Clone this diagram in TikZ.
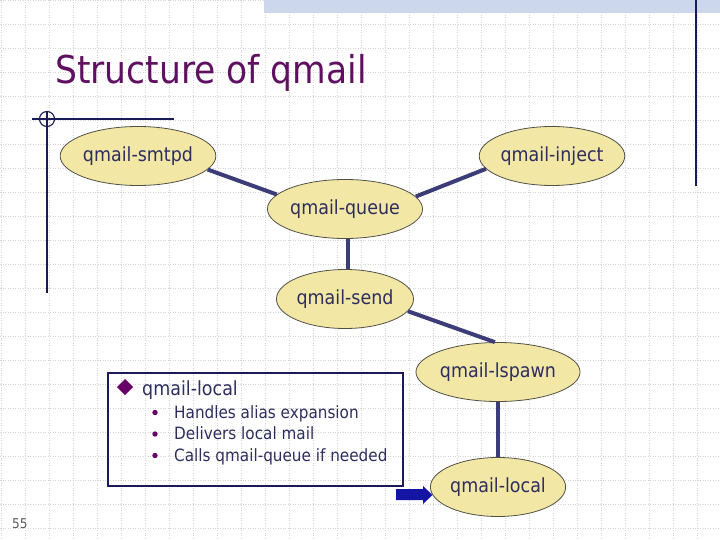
\documentclass[tikz,border=0pt]{standalone}
\usepackage{fontspec}
\setmainfont[FakeStretch=0.9]{DejaVu Sans}
\usetikzlibrary{shapes.geometric}
\definecolor{gridc}{RGB}{212,212,212}
\definecolor{bandc}{RGB}{204,214,236}
\definecolor{navy}{RGB}{26,26,90}
\definecolor{titlec}{RGB}{96,16,96}
\definecolor{txtc}{RGB}{45,45,95}
\definecolor{ellfill}{RGB}{243,231,166}
\definecolor{elldraw}{RGB}{80,80,70}
\definecolor{conc}{RGB}{60,60,120}
\definecolor{arrc}{RGB}{20,20,165}
\definecolor{bulc}{RGB}{102,0,102}
\tikzset{
  proc/.style={ellipse, draw=elldraw, line width=0.8bp, fill=ellfill,
    minimum width=132bp, minimum height=59bp, inner sep=0pt,
    text=txtc, font=\fontsize{19.5}{22}\selectfont},
  conn/.style={draw=conc, line width=4bp},
  gridline/.style={draw=gridc, line width=0.7bp, dash pattern=on 1bp off 1.5bp},
  deco/.style={draw=navy, line width=1.1bp},
  subtxt/.style={anchor=base west, inner sep=0pt, text=txtc, font=\fontsize{17}{20}\selectfont},
  subbul/.style={fill=bulc}
}
\begin{document}
\begin{tikzpicture}[x=1bp,y=-1bp]
\useasboundingbox (0,0) rectangle (720,540);
% background grid
\foreach \i in {0,...,29} { \draw[gridline] ({24*\i+1},0) -- ({24*\i+1},540); }
\foreach \j in {0,...,22} { \draw[gridline] (0,{24*\j}) -- (720,{24*\j}); }
% top band
\fill[bandc] (264,0) rectangle (720,13);
\draw[deco] (696,0) -- (696,186);
% left decoration
\draw[deco] (32,119) -- (174,119);
\draw[deco] (47,111) -- (47,293);
\draw[deco] (47,119) circle[radius=7.5];
% title
\node[anchor=base west, inner sep=0pt, text=titlec, font=\fontsize{38.5}{44}\selectfont] (title) at (55,84) {Structure of qmail};
% processes
\node[proc] (smtpd) at (138,156) {qmail-smtpd};
\node[proc] (inject) at (552,156) {qmail-inject};
\node[proc] (queue) at (345,209) {qmail-queue};
\node[proc] (send) at (345,299) {qmail-send};
\node[proc] (lspawn) at (498,372) {qmail-lspawn};
\node[proc] (local) at (498,487) {qmail-local};
% connectors
\draw[conn] (smtpd.-11.3) -- (queue.168.9);
\draw[conn] (inject.191.3) -- (queue.10.4);
\draw[conn] ([xshift=3bp]queue.south) -- ([xshift=3bp]send.north);
\draw[conn] (send.-11.7) -- (lspawn.96);
\draw[conn] (lspawn.south) -- (local.north);
% info box
\draw[draw=navy, line width=1.3bp] (108,373) rectangle (403,486);
\fill[bulc] (125,379) -- (133,387) -- (125,395) -- (117,387) -- cycle;
\node[anchor=base west, inner sep=0pt, text=txtc, font=\fontsize{19.5}{22}\selectfont] (hdr) at (142,395) {qmail-local};
\fill[subbul] (155,412.5) circle[radius=2.7];
\node[subtxt] (t1) at (174,418) {Handles alias expansion};
\fill[subbul] (155,434) circle[radius=2.7];
\node[subtxt] (t2) at (174,439.5) {Delivers local mail};
\fill[subbul] (155,455.5) circle[radius=2.7];
\node[subtxt] (t3) at (174,461) {Calls qmail-queue if needed};
% block arrow
\fill[arrc] (396,489) -- (423,489) -- (423,486) -- (432.5,495) -- (423,504) -- (423,500) -- (396,500) -- cycle;
% page number
\node[anchor=base west, inner sep=0pt, text=black!65, font=\fontsize{13.5}{15}\selectfont] (pg) at (12,528) {55};
\end{tikzpicture}
\end{document}
